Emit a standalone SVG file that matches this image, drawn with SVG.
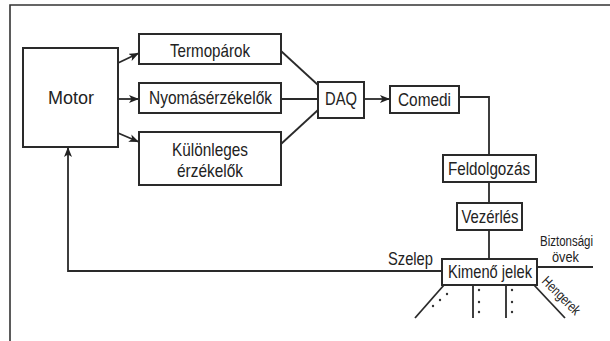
<svg xmlns="http://www.w3.org/2000/svg" width="610" height="341" viewBox="0 0 610 341">
<defs>
<style>
.box{fill:#fff;stroke:#2a2a2a;stroke-width:2}
.ln{fill:none;stroke:#2a2a2a;stroke-width:1.8}
.fr{fill:none;stroke:#333;stroke-width:1.6}
.t{font-family:"Liberation Sans",Arial,sans-serif;font-size:18.5px;fill:#222;text-anchor:middle}
.s{font-family:"Liberation Sans",Arial,sans-serif;font-size:14px;fill:#222;text-anchor:middle}
.dot{fill:#333}
</style>
<marker id="ah" markerUnits="userSpaceOnUse" markerWidth="11" markerHeight="9" refX="10" refY="4" orient="auto">
<path d="M0,0 L10,4 L0,8 L2.5,4 z" fill="#222"/>
</marker>
</defs>
<rect width="610" height="341" fill="#fff"/>
<g id="frame">
<path class="fr" d="M10,341 V5 H610"/>
</g>
<g id="connectors">
<line class="ln" x1="118" y1="63" x2="139" y2="53" marker-end="url(#ah)"/>
<line class="ln" x1="118" y1="99" x2="139" y2="99" marker-end="url(#ah)"/>
<line class="ln" x1="118" y1="133" x2="139" y2="142" marker-end="url(#ah)"/>
<line class="ln" x1="281" y1="51" x2="318" y2="85"/>
<line class="ln" x1="281" y1="99" x2="318" y2="99"/>
<line class="ln" x1="281" y1="144" x2="318" y2="110"/>
<line class="ln" x1="364" y1="99" x2="390" y2="99" marker-end="url(#ah)"/>
<path class="ln" d="M459,97 H489 V155"/>
<line class="ln" x1="489" y1="182" x2="489" y2="203"/>
<line class="ln" x1="489" y1="230" x2="489" y2="259"/>
<path class="ln" d="M442,271 H68 V147" marker-end="url(#ah)"/>
<line class="ln" x1="537" y1="267" x2="593" y2="267"/>
<line class="ln" x1="444" y1="285" x2="415" y2="318"/>
<line class="ln" x1="473" y1="285" x2="473" y2="318"/>
<line class="ln" x1="506" y1="285" x2="506" y2="318"/>
<line class="ln" x1="534" y1="285" x2="565" y2="318"/>
<circle class="dot" cx="447" cy="294" r="1.2"/>
<circle class="dot" cx="440" cy="300" r="1.2"/>
<circle class="dot" cx="433" cy="306" r="1.2"/>
<circle class="dot" cx="479" cy="290" r="1.2"/>
<circle class="dot" cx="479" cy="302" r="1.2"/>
<circle class="dot" cx="479" cy="312" r="1.2"/>
<circle class="dot" cx="512" cy="290" r="1.2"/>
<circle class="dot" cx="512" cy="302" r="1.2"/>
<circle class="dot" cx="512" cy="312" r="1.2"/>
<text class="t" x="410.5" y="265" textLength="45" lengthAdjust="spacingAndGlyphs">Szelep</text>
<text class="s" x="566.5" y="246" textLength="53" lengthAdjust="spacingAndGlyphs">Biztonsági</text>
<text class="s" x="565.5" y="262" textLength="27" lengthAdjust="spacingAndGlyphs">övek</text>
<text class="s" transform="translate(558,299) rotate(45)" x="0" y="0" font-size="13" textLength="48" lengthAdjust="spacingAndGlyphs">Hengerek</text>
</g>
<g id="motor">
<rect class="box" x="23" y="48" width="95" height="99"/>
<text class="t" x="71" y="104" textLength="46" lengthAdjust="spacingAndGlyphs">Motor</text>
</g>
<g id="termoparok">
<rect class="box" x="139" y="34" width="142" height="30"/>
<text class="t" x="210" y="57" textLength="80" lengthAdjust="spacingAndGlyphs">Termopárok</text>
</g>
<g id="nyomas">
<rect class="box" x="139" y="83" width="142" height="30"/>
<text class="t" x="210.5" y="104" textLength="123" lengthAdjust="spacingAndGlyphs">Nyomásérzékelők</text>
</g>
<g id="kulonleges">
<rect class="box" x="139" y="132" width="142" height="53"/>
<text class="t" x="210" y="156" textLength="76" lengthAdjust="spacingAndGlyphs">Különleges</text>
<text class="t" x="210" y="177" textLength="66" lengthAdjust="spacingAndGlyphs">érzékelők</text>
</g>
<g id="daq">
<rect class="box" x="318" y="82" width="46" height="36"/>
<text class="t" x="341" y="105" textLength="32" lengthAdjust="spacingAndGlyphs">DAQ</text>
</g>
<g id="comedi">
<rect class="box" x="390" y="86" width="69" height="27"/>
<text class="t" x="424.5" y="106" textLength="53" lengthAdjust="spacingAndGlyphs">Comedi</text>
</g>
<g id="feldolgozas">
<rect class="box" x="443" y="155" width="93" height="27"/>
<text class="t" x="489" y="175" textLength="82" lengthAdjust="spacingAndGlyphs">Feldolgozás</text>
</g>
<g id="vezerles">
<rect class="box" x="457" y="203" width="65" height="27"/>
<text class="t" x="490" y="223" textLength="57" lengthAdjust="spacingAndGlyphs">Vezérlés</text>
</g>
<g id="kimeno">
<rect class="box" x="442" y="259" width="95" height="26"/>
<text class="t" x="490" y="278" textLength="84" lengthAdjust="spacingAndGlyphs">Kimenő jelek</text>
</g>
</svg>
